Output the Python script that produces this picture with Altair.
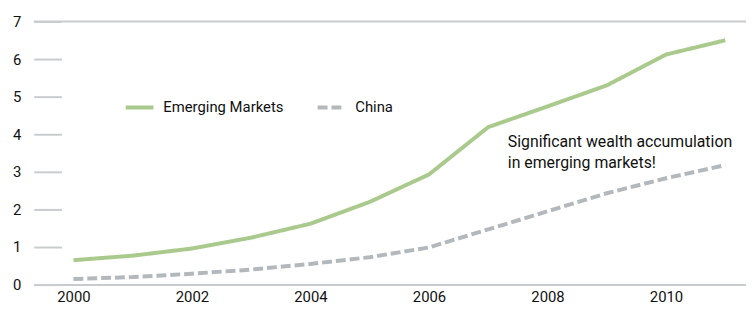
import altair as alt
import pandas as pd

years = [2000, 2001, 2002, 2003, 2004, 2005, 2006, 2007, 2008, 2009, 2010, 2011]
emerging = [0.65, 0.77, 0.96, 1.25, 1.62, 2.20, 2.93, 4.19, 4.74, 5.30, 6.12, 6.50]
china = [0.15, 0.20, 0.29, 0.40, 0.55, 0.73, 0.99, 1.47, 1.95, 2.43, 2.83, 3.18]
series_names = ["Emerging Markets", "China"]
x_ticks = [2000, 2002, 2004, 2006, 2008, 2010]
y_ticks = [0, 1, 2, 3, 4, 5, 6, 7]
note_lines = ["Significant wealth accumulation", "in emerging markets!"]
note_x = [2007.33]
note_y = [4.0]

rows = []
for y, e, c in zip(years, emerging, china):
    rows.append({"year": y, "value": e, "series": series_names[0]})
    rows.append({"year": y, "value": c, "series": series_names[1]})
df = pd.DataFrame(rows)

GREEN = "#a9ca8c"
GREY = "#b3b8bc"
FONT = "Roboto"
TXT = "#111111"

xscale = alt.Scale(domain=[1999.33, 2011.35], nice=False, zero=False)
yscale = alt.Scale(domain=[0, 7], nice=False)

xaxis = alt.Axis(values=x_ticks, format="d", title=None, ticks=False,
                 grid=False, domain=True, domainColor="#c9cccf",
                 domainWidth=2, labelPadding=5, labelFontSize=15,
                 labelFont=FONT, labelColor=TXT, labelOverlap=False)
yaxis = alt.Axis(values=y_ticks, title=None, domain=False, grid=False,
                 ticks=True, tickSize=28, tickColor="#c9cccf", tickWidth=2,
                 offset=-28, labelPadding=13, labelFontSize=15,
                 labelFont=FONT, labelColor=TXT, labelOverlap=False,
                 labelFlush=False)

lines = alt.Chart(df).mark_line(strokeWidth=4, strokeCap="butt").encode(
    x=alt.X("year:Q", scale=xscale, axis=xaxis),
    y=alt.Y("value:Q", scale=yscale, axis=yaxis),
    color=alt.Color("series:N", scale=alt.Scale(domain=series_names, range=[GREEN, GREY]),
                    legend=alt.Legend(title=None, orient="none", direction="horizontal",
                                      legendX=91, legendY=71, symbolType="stroke",
                                      symbolSize=784, symbolStrokeWidth=4,
                                      labelFontSize=15, labelFont=FONT,
                                      labelColor=TXT, labelOffset=8,
                                      columnPadding=26, padding=0)),
    strokeDash=alt.StrokeDash("series:N",
                              scale=alt.Scale(domain=series_names, range=[[1, 0], [10, 4]]),
                              legend=None),
)

top_rule = alt.Chart(pd.DataFrame({"v": [y_ticks[-1]]})).mark_rule(
    color="#c9cccf", strokeWidth=2).encode(y=alt.Y("v:Q", scale=yscale, axis=yaxis))

note = alt.Chart(pd.DataFrame({"x": note_x, "y": note_y, "t": [note_lines]})).mark_text(
    align="left", baseline="top", fontSize=16, font=FONT, color=TXT, lineHeight=21
).encode(x=alt.X("x:Q", scale=xscale, axis=xaxis),
         y=alt.Y("y:Q", scale=yscale, axis=yaxis), text="t")

chart = alt.layer(lines, top_rule, note).properties(
    width=720, height=266, padding={"left": 26, "top": 12, "right": 0, "bottom": 20},
    autosize=alt.AutoSizeParams(type="none"),
).configure_view(stroke=None)

chart.save("out.html", embed_options={"renderer": "svg", "actions": False})
